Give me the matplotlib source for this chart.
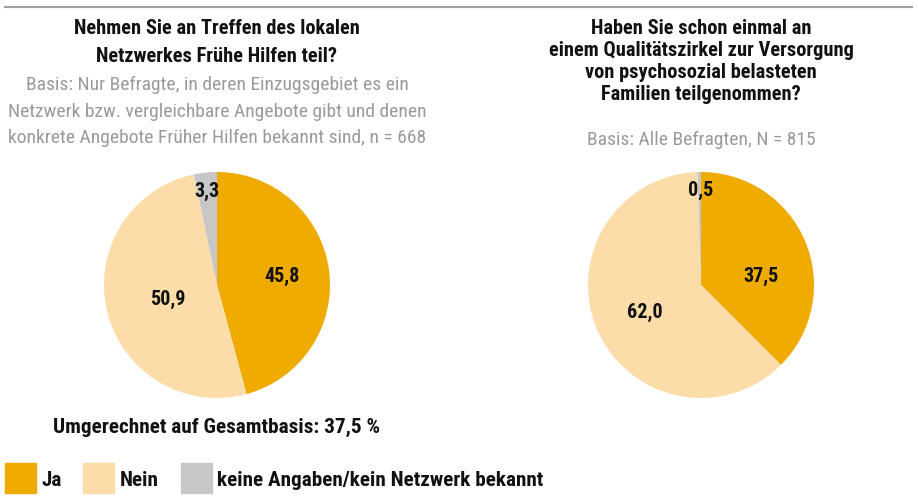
import matplotlib
matplotlib.use("Agg")
import matplotlib.pyplot as plt
from matplotlib.patches import Rectangle

plt.rcParams['font.family'] = ['Liberation Sans Narrow', 'Roboto Condensed', 'Liberation Sans', 'DejaVu Sans']

categories = ["Ja", "Nein", "keine Angaben/kein Netzwerk bekannt"]
colors = ["#F0AB00", "#FCDDA9", "#C6C7C6"]

left_values = [45.8, 50.9, 3.3]
right_values = [37.5, 62.0, 0.5]
left_labels = ["45,8", "50,9", "3,3"]
right_labels = ["37,5", "62,0", "0,5"]

left_title = ["Nehmen Sie an Treffen des lokalen", "Netzwerkes Frühe Hilfen teil?"]
left_sub = ["Basis: Nur Befragte, in deren Einzugsgebiet es ein",
            "Netzwerk bzw. vergleichbare Angebote gibt und denen",
            "konkrete Angebote Früher Hilfen bekannt sind, n = 668"]
right_title = ["Haben Sie schon einmal an", "einem Qualitätszirkel zur Versorgung",
               "von psychosozial belasteten", "Familien teilgenommen?"]
right_sub = ["Basis: Alle Befragten, N = 815"]
note = "Umgerechnet auf Gesamtbasis: 37,5 %"

W, H = 918, 497
fig = plt.figure(figsize=(W / 100, H / 100), dpi=100)

def px(x, y):
    return x / W, 1 - y / H

# top rule
fig.add_artist(plt.Line2D([5 / W, 912 / W], [1 - 7 / H] * 2, color="#A0A0A0", lw=1.5))

def pie(cx, cy, r, values, labels, label_pos):
    ax = fig.add_axes([(cx - r) / W, 1 - (cy + r) / H, 2 * r / W, 2 * r / H])
    ax.pie(values, colors=colors, startangle=90, counterclock=False, radius=1,
           wedgeprops=dict(linewidth=0))
    ax.set_xlim(-1, 1)
    ax.set_ylim(-1, 1)
    ax.set_aspect("equal")
    ax.axis("off")
    for lab, (lx, ly) in zip(labels, label_pos):
        ax.text(lx, ly, lab, ha="center", va="center", fontsize=14.5, fontweight="bold", color="#111111")

pie(217, 285, 113, left_values, left_labels, [(0.58, 0.08), (-0.44, -0.13), (-0.085, 0.83)])
pie(701, 285, 113, right_values, right_labels, [(0.53, 0.08), (-0.50, -0.24), (0.0, 0.84)])

def lines(cx, ys, texts, bold, color, fs):
    for y, t in zip(ys, texts):
        x0, y0 = px(cx, y)
        fig.text(x0, y0, t, ha="center", va="center", fontsize=fs,
                 fontweight="bold" if bold else "normal", color=color)

lines(217, [29, 56], left_title, True, "#111111", 14.7)
lines(217, [85, 112, 138], left_sub, False, "#9A9A9A", 14)
lines(701, [29, 51, 73, 94], right_title, True, "#111111", 14.7)
lines(701, [140], right_sub, False, "#9A9A9A", 14)

x0, y0 = px(53, 427)
fig.text(x0, y0, note, ha="left", va="center", fontsize=15.3, fontweight="bold", color="#111111")

# legend
sq = [(5, 36), (83, 114), (181, 212)]
tx = [41, 120, 217]
for (a, b), t, c, lab in zip(sq, tx, colors, categories):
    fig.add_artist(Rectangle((a / W, 1 - 493 / H), (b - a) / W, 30 / H, color=c, transform=fig.transFigure))
    x0, y0 = px(t, 481)
    fig.text(x0, y0, lab, ha="left", va="center", fontsize=15.2, fontweight="bold", color="#111111")

fig.savefig("out.png", dpi=100)
